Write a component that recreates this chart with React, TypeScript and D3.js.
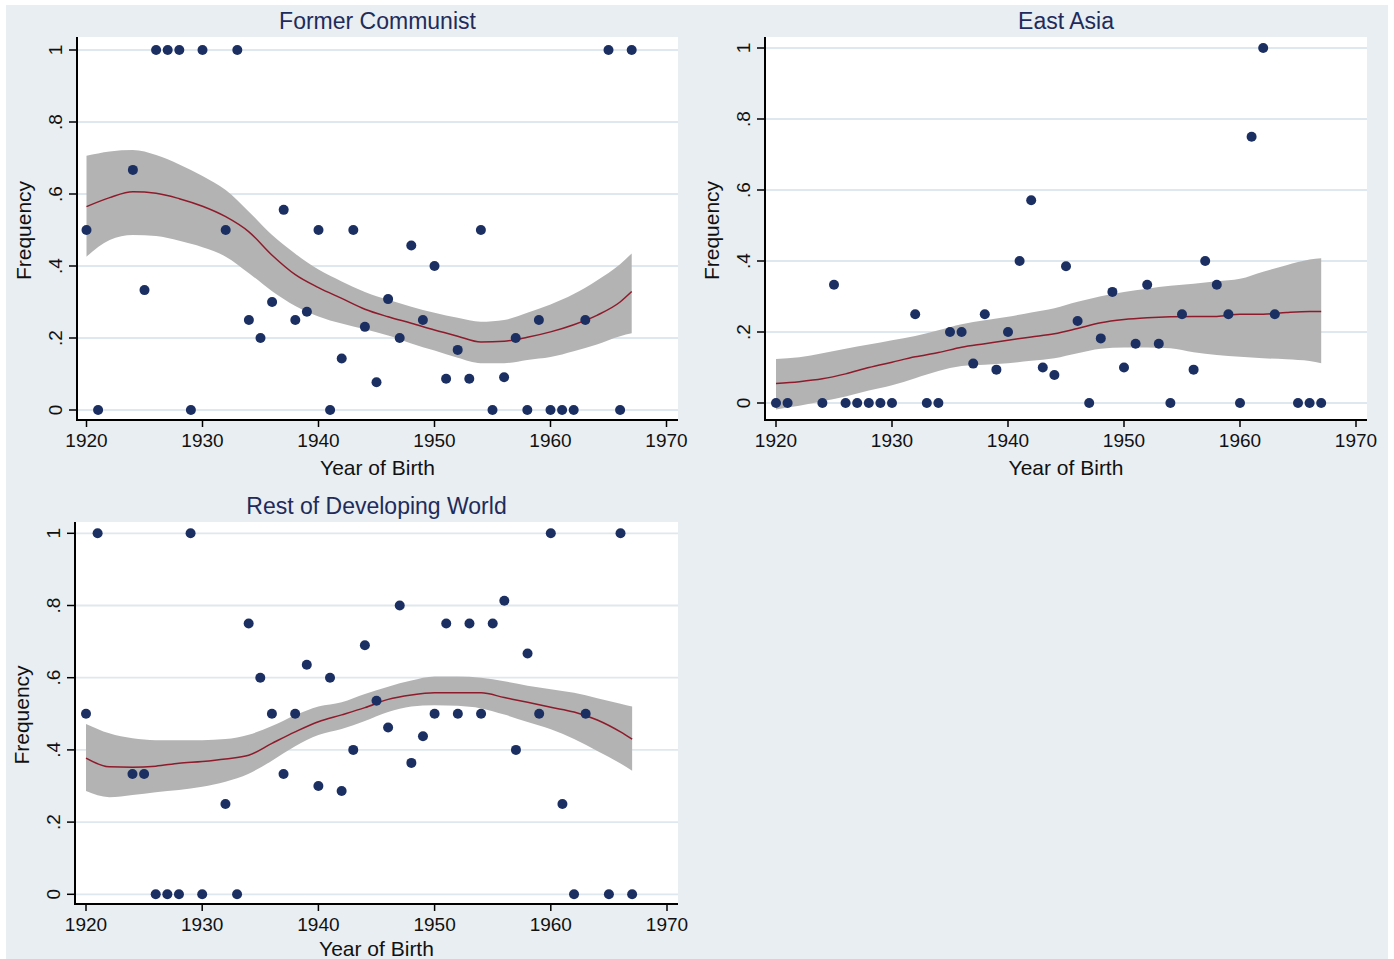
import React, { useRef, useEffect } from 'react';
import * as d3 from 'd3';

// birth cohorts shown in every panel
const birthYears = [
    1920, 1921, 1924, 1925, 1926, 1927, 1928, 1929, 1930, 1932, 1933, 1934, 1935, 1936, 1937,
    1938, 1939, 1940, 1941, 1942, 1943, 1944, 1945, 1946, 1947, 1948, 1949, 1950, 1951, 1952,
    1953, 1954, 1955, 1956, 1957, 1958, 1959, 1960, 1961, 1962, 1963, 1965, 1966, 1967,
];

const formerCommunist = [
    0.5, 0, 0.667, 0.333, 1, 1, 1, 0, 1, 0.5, 1, 0.25, 0.2, 0.3, 0.556,
    0.25, 0.273, 0.5, 0, 0.143, 0.5, 0.231, 0.077, 0.308, 0.2, 0.457, 0.25, 0.4, 0.087, 0.167,
    0.087, 0.5, 0, 0.091, 0.2, 0, 0.25, 0, 0, 0, 0.25, 1, 0, 1,
];
const eastAsia = [
    0, 0, 0, 0.333, 0, 0, 0, 0, 0, 0.25, 0, 0, 0.2, 0.2, 0.111,
    0.25, 0.094, 0.2, 0.4, 0.571, 0.1, 0.079, 0.385, 0.231, 0, 0.182, 0.313, 0.1, 0.167, 0.333,
    0.167, 0, 0.25, 0.094, 0.4, 0.333, 0.25, 0, 0.75, 1, 0.25, 0, 0, 0,
];
const restOfWorld = [
    0.5, 1, 0.333, 0.333, 0, 0, 0, 1, 0, 0.25, 0, 0.75, 0.6, 0.5, 0.333,
    0.5, 0.636, 0.3, 0.6, 0.286, 0.4, 0.69, 0.536, 0.462, 0.8, 0.364, 0.438, 0.5, 0.75, 0.5,
    0.75, 0.5, 0.75, 0.813, 0.4, 0.667, 0.5, 1, 0.25, 0, 0.5, 0, 1, 0,
];

// local polynomial fit with 95% CI
const fitYears = [
    1920, 1922, 1924, 1926, 1928, 1930, 1932, 1934, 1936, 1938, 1940, 1942, 1944,
    1946, 1948, 1950, 1952, 1954, 1956, 1958, 1960, 1962, 1964, 1966, 1967,
];
const fcFit = [0.565, 0.59, 0.606, 0.602, 0.587, 0.566, 0.537, 0.495, 0.43, 0.376, 0.34, 0.31, 0.28, 0.259, 0.241, 0.222, 0.205, 0.189, 0.191, 0.202, 0.217, 0.237, 0.263, 0.3, 0.329];
const fcLow = [0.426, 0.472, 0.486, 0.483, 0.47, 0.452, 0.426, 0.38, 0.33, 0.289, 0.26, 0.24, 0.224, 0.207, 0.185, 0.165, 0.145, 0.13, 0.13, 0.139, 0.147, 0.163, 0.182, 0.205, 0.213];
const fcHigh = [0.706, 0.718, 0.722, 0.708, 0.682, 0.65, 0.611, 0.551, 0.486, 0.434, 0.39, 0.357, 0.328, 0.306, 0.287, 0.27, 0.256, 0.245, 0.25, 0.27, 0.293, 0.322, 0.36, 0.405, 0.435];

const eaFit = [0.055, 0.06, 0.068, 0.082, 0.1, 0.115, 0.13, 0.142, 0.157, 0.167, 0.177, 0.186, 0.195, 0.21, 0.226, 0.235, 0.24, 0.243, 0.244, 0.244, 0.25, 0.25, 0.255, 0.258, 0.258];
const eaLow = [-0.018, -0.008, 0.005, 0.018, 0.035, 0.05, 0.07, 0.09, 0.104, 0.108, 0.112, 0.119, 0.126, 0.14, 0.153, 0.156, 0.156, 0.154, 0.143, 0.135, 0.13, 0.126, 0.123, 0.118, 0.112];
const eaHigh = [0.124, 0.129, 0.14, 0.153, 0.165, 0.177, 0.189, 0.205, 0.222, 0.233, 0.243, 0.255, 0.267, 0.285, 0.301, 0.313, 0.322, 0.33, 0.336, 0.343, 0.35, 0.37, 0.388, 0.404, 0.408];

const rdFit = [0.377, 0.353, 0.352, 0.355, 0.363, 0.368, 0.375, 0.385, 0.418, 0.45, 0.478, 0.497, 0.517, 0.54, 0.552, 0.558, 0.558, 0.558, 0.545, 0.532, 0.518, 0.505, 0.483, 0.45, 0.43];
const rdLow = [0.286, 0.269, 0.275, 0.283, 0.289, 0.298, 0.312, 0.334, 0.37, 0.41, 0.441, 0.458, 0.48, 0.505, 0.52, 0.524, 0.522, 0.515, 0.498, 0.477, 0.457, 0.43, 0.397, 0.362, 0.342];
const rdHigh = [0.472, 0.446, 0.432, 0.427, 0.427, 0.427, 0.43, 0.442, 0.466, 0.496, 0.52, 0.532, 0.555, 0.575, 0.592, 0.603, 0.603, 0.6, 0.59, 0.578, 0.568, 0.558, 0.543, 0.528, 0.52];

const xTicks = [1920, 1930, 1940, 1950, 1960, 1970];
const yTicks = [0, 0.2, 0.4, 0.6, 0.8, 1];
const yTickLabels = ['0', '.2', '.4', '.6', '.8', '1'];

// box = [left, right, top, bottom] of the white plot region; xtitleY = baseline of "Year of Birth"
const panels = [
    { title: 'Former Communist', values: formerCommunist, fit: fcFit, low: fcLow, high: fcHigh,
      box: [77, 678, 37, 420], xr: [86.5, 666.5], yr: [410, 50], xtitleY: 475 },
    { title: 'East Asia', values: eastAsia, fit: eaFit, low: eaLow, high: eaHigh,
      box: [765, 1367, 37, 420], xr: [776, 1356], yr: [403, 48], xtitleY: 475 },
    { title: 'Rest of Developing World', values: restOfWorld, fit: rdFit, low: rdLow, high: rdHigh,
      box: [75, 678, 522, 904], xr: [86, 667], yr: [894.3, 533.3], xtitleY: 956 },
];

const FONT = "'Liberation Sans', Arial, sans-serif";

const App = () => {
    const svgRef = useRef<SVGSVGElement>(null);

    useEffect(() => {
        const svg = d3.select(svgRef.current);
        svg.selectAll('*').remove();

        svg.append('rect').attr('x', 0).attr('y', 0).attr('width', 1394).attr('height', 959).attr('fill', '#ffffff');
        svg.append('rect').attr('x', 6).attr('y', 5).attr('width', 1382).attr('height', 954).attr('fill', '#e8eef1');

        panels.forEach((p) => {
            const [left, right, top, bottom] = p.box;
            const x = d3.scaleLinear().domain([1920, 1970]).range(p.xr);
            const y = d3.scaleLinear().domain([0, 1]).range(p.yr);
            const g = svg.append('g');

            g.append('rect')
                .attr('x', left).attr('y', top)
                .attr('width', right - left).attr('height', bottom - top)
                .attr('fill', '#ffffff');

            // gridlines
            g.selectAll('.grid')
                .data(yTicks)
                .enter()
                .append('line')
                .attr('x1', left).attr('x2', right)
                .attr('y1', (d) => y(d)).attr('y2', (d) => y(d))
                .attr('stroke', '#dfe8ee')
                .attr('stroke-width', 1.8);

            const fitRows = fitYears.map((yr, i) => ({ yr, fit: p.fit[i], lo: p.low[i], hi: p.high[i] }));

            const area = d3.area<any>()
                .x((d) => x(d.yr))
                .y0((d) => y(d.lo))
                .y1((d) => y(d.hi))
                .curve(d3.curveMonotoneX);
            g.append('path').attr('d', area(fitRows)).attr('fill', '#b3b3b3');

            const line = d3.line<any>()
                .x((d) => x(d.yr))
                .y((d) => y(d.fit))
                .curve(d3.curveMonotoneX);
            g.append('path').attr('d', line(fitRows))
                .attr('fill', 'none').attr('stroke', '#8e1b2b').attr('stroke-width', 1.5);

            // scatter
            g.selectAll('.dot')
                .data(birthYears.map((yr, i) => ({ yr, v: p.values[i] })))
                .enter()
                .append('circle')
                .attr('cx', (d) => x(d.yr))
                .attr('cy', (d) => y(d.v))
                .attr('r', 5)
                .attr('fill', '#1b2f62');

            // axes
            g.append('line').attr('x1', left).attr('x2', left).attr('y1', top).attr('y2', bottom + 1)
                .attr('stroke', '#000').attr('stroke-width', 2);
            g.append('line').attr('x1', left - 1).attr('x2', right).attr('y1', bottom).attr('y2', bottom)
                .attr('stroke', '#000').attr('stroke-width', 2);

            g.selectAll('.ytick')
                .data(yTicks)
                .enter()
                .append('line')
                .attr('x1', left - 8).attr('x2', left)
                .attr('y1', (d) => y(d)).attr('y2', (d) => y(d))
                .attr('stroke', '#000').attr('stroke-width', 1.5);

            g.selectAll('.ylab')
                .data(yTicks)
                .enter()
                .append('text')
                .attr('transform', (d) => `translate(${left - 22},${y(d)}) rotate(-90)`)
                .attr('text-anchor', 'middle')
                .attr('dominant-baseline', 'central')
                .style('font-family', FONT)
                .style('font-size', '19px')
                .attr('fill', '#111')
                .text((d, i) => yTickLabels[i]);

            g.selectAll('.xtick')
                .data(xTicks)
                .enter()
                .append('line')
                .attr('x1', (d) => x(d)).attr('x2', (d) => x(d))
                .attr('y1', bottom).attr('y2', bottom + 7)
                .attr('stroke', '#000').attr('stroke-width', 1.5);

            g.selectAll('.xlab')
                .data(xTicks)
                .enter()
                .append('text')
                .attr('x', (d) => x(d))
                .attr('y', bottom + 27)
                .attr('text-anchor', 'middle')
                .style('font-family', FONT)
                .style('font-size', '19px')
                .attr('fill', '#111')
                .text((d) => String(d));

            const cx = (left + right) / 2;
            g.append('text')
                .attr('x', cx).attr('y', top - 8)
                .attr('text-anchor', 'middle')
                .style('font-family', FONT)
                .style('font-size', '23px')
                .attr('fill', '#1f2b5b')
                .text(p.title);

            g.append('text')
                .attr('x', cx).attr('y', p.xtitleY)
                .attr('text-anchor', 'middle')
                .style('font-family', FONT)
                .style('font-size', '21px')
                .attr('fill', '#111')
                .text('Year of Birth');

            g.append('text')
                .attr('transform', `translate(${left - 54},${(top + bottom) / 2 + 2}) rotate(-90)`)
                .attr('text-anchor', 'middle')
                .attr('dominant-baseline', 'central')
                .style('font-family', FONT)
                .style('font-size', '21px')
                .attr('fill', '#111')
                .text('Frequency');
        });
    }, []);

    return (
        <svg
            ref={svgRef}
            width={1394}
            height={959}
            style={{ position: 'absolute', left: 0, top: 0, display: 'block' }}
        ></svg>
    );
};

export default App;
